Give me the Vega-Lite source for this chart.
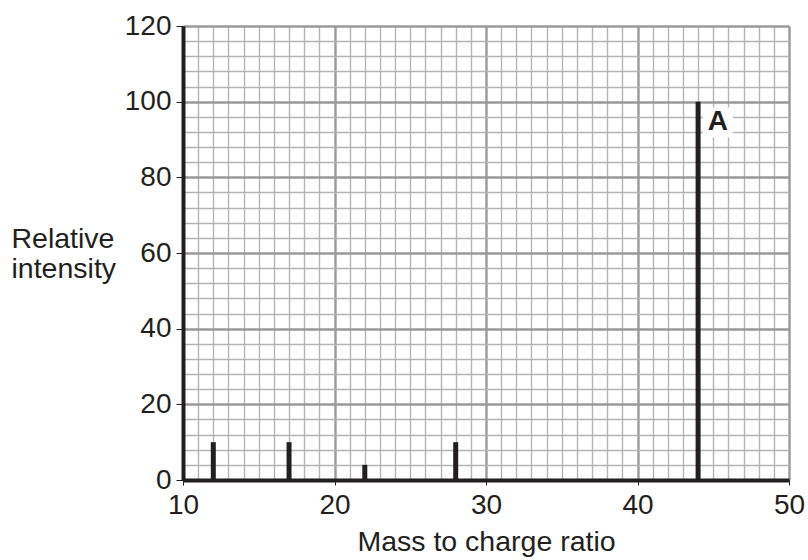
{
  "$schema": "https://vega.github.io/schema/vega-lite/v6.json",
  "width": 606,
  "height": 454,
  "autosize": "none",
  "padding": {"left": 183, "top": 26, "right": 19, "bottom": 80},
  "background": "white",
  "config": {
    "view": {"stroke": null},
    "font": "Liberation Sans",
    "axis": {
      "labelFont": "Liberation Sans",
      "titleFont": "Liberation Sans",
      "labelColor": "#231f20",
      "titleColor": "#231f20",
      "titleFontWeight": "normal",
      "labelFontSize": 28,
      "titleFontSize": 28.5,
      "labelOverlap": false,
      "labelBound": false
    }
  },
  "data": {
    "values": [
      {"mz": 12, "intensity": 10},
      {"mz": 17, "intensity": 10},
      {"mz": 22, "intensity": 4},
      {"mz": 28, "intensity": 10},
      {"mz": 44, "intensity": 100}
    ]
  },
  "layer": [
    {
      "mark": {"type": "rule", "color": "#231f20", "strokeWidth": 5, "strokeCap": "butt"},
      "encoding": {
        "x": {
          "field": "mz", "type": "quantitative",
          "scale": {"domain": [10, 50], "nice": false, "zero": false},
          "axis": {
            "values": [10,11,12,13,14,15,16,17,18,19,20,21,22,23,24,25,26,27,28,29,30,31,32,33,34,35,36,37,38,39,40,41,42,43,44,45,46,47,48,49,50],
            "tickCount": 200,
            "format": "d",
            "labelExpr": "datum.value % 10 === 0 ? datum.label : ''",
            "grid": true,
            "gridColor": {"condition": {"test": "datum.value % 10 === 0", "value": "#9a9a9a"}, "value": "#b4b4b4"},
            "gridWidth": {"condition": {"test": "datum.value % 10 === 0", "value": 2.4}, "value": 1.4},
            "tickColor": "#231f20",
            "tickWidth": 1,
            "tickSize": 5,
            "tickOpacity": {"condition": {"test": "datum.value % 10 === 0", "value": 1}, "value": 0},
            "domainColor": "#231f20",
            "domainWidth": 4,
            "labelPadding": 6,
            "labelFlush": false,
            "title": "Mass to charge ratio",
            "titleBaseline": "alphabetic",
            "titleY": 70
          }
        },
        "y": {
          "field": "intensity", "type": "quantitative",
          "scale": {"domain": [0, 120], "nice": false},
          "axis": {
            "values": [0,4,8,12,16,20,24,28,32,36,40,44,48,52,56,60,64,68,72,76,80,84,88,92,96,100,104,108,112,116,120],
            "tickCount": 200,
            "format": "d",
            "labelExpr": "datum.value % 20 === 0 ? datum.label : ''",
            "grid": true,
            "gridColor": {"condition": {"test": "datum.value % 20 === 0", "value": "#9a9a9a"}, "value": "#b4b4b4"},
            "gridWidth": {"condition": {"test": "datum.value % 20 === 0", "value": 2.4}, "value": 1.4},
            "tickColor": "#231f20",
            "tickWidth": 1,
            "tickSize": 7,
            "tickOpacity": {"condition": {"test": "datum.value % 20 === 0", "value": 1}, "value": 0},
            "domainColor": "#231f20",
            "domainWidth": 4,
            "labelPadding": 5,
            "labelFlush": false,
            "title": ["Relative", "intensity"],
            "titleAngle": 0,
            "titleAlign": "left",
            "titleBaseline": "alphabetic",
            "titleX": -172,
            "titleY": 221,
            "titleLineHeight": 30
          }
        },
        "y2": {"datum": 0}
      }
    },
    {
      "data": {"values": [{"mz": 45.3, "intensity": 94.5, "label": "A"}]},
      "layer": [
        {
          "mark": {"type": "point", "shape": "square", "filled": true, "color": "white", "opacity": 1, "size": 900},
          "encoding": {
            "x": {"field": "mz", "type": "quantitative"},
            "y": {"field": "intensity", "type": "quantitative"}
          }
        },
        {
          "mark": {"type": "text", "font": "Liberation Sans", "fontWeight": "bold", "fontSize": 28, "color": "#231f20", "baseline": "middle", "align": "center"},
          "encoding": {
            "x": {"field": "mz", "type": "quantitative"},
            "y": {"field": "intensity", "type": "quantitative"},
            "text": {"field": "label"}
          }
        }
      ]
    }
  ]
}
